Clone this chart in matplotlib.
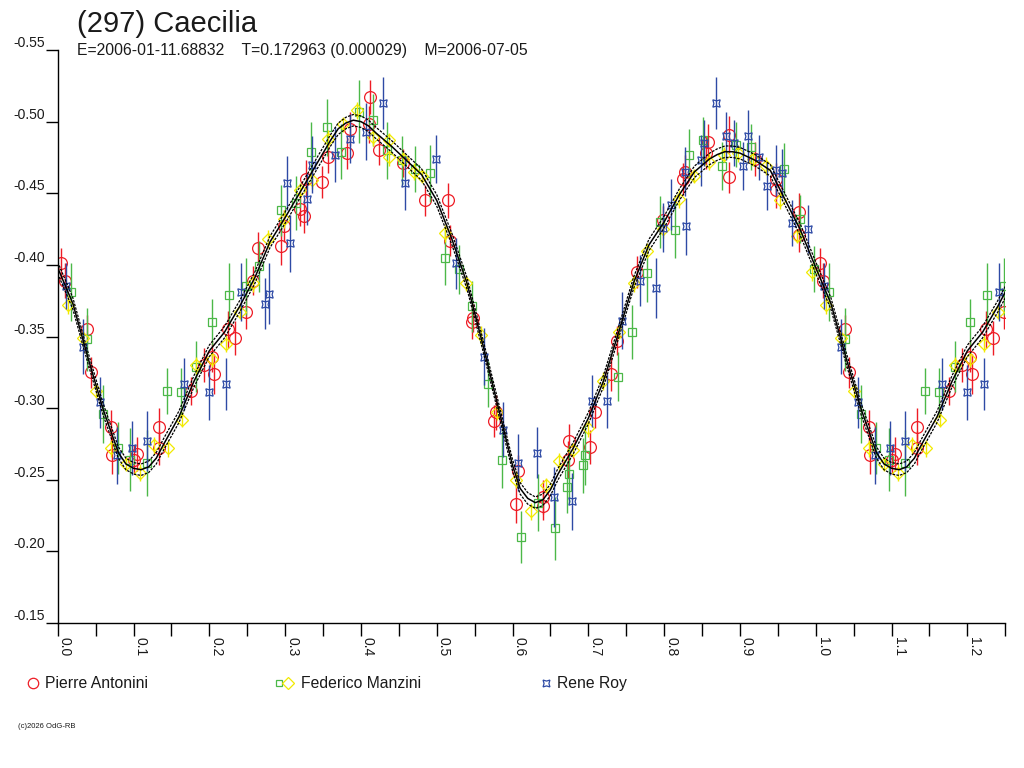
import numpy as np
import matplotlib
matplotlib.use("Agg")
from matplotlib import pyplot as plt

plt.rcParams["font.family"] = ["Liberation Sans", "DejaVu Sans"]

TITLE = "(297) Caecilia"
SUBTITLE = "E=2006-01-11.68832    T=0.172963 (0.000029)    M=2006-07-05"
OBSERVERS = ["Pierre Antonini", "Federico Manzini", "Rene Roy"]

# phase, magnitude, error  (phase 0..1, phases < 0.25 are repeated after 1.0)
red_phase = [0.005, 0.010, 0.038, 0.044, 0.070, 0.071, 0.104, 0.101, 0.134, 0.133,
             0.176, 0.193, 0.206, 0.204, 0.224, 0.234, 0.248, 0.264, 0.294, 0.258,
             0.412, 0.386, 0.382, 0.424, 0.411, 0.356, 0.327, 0.348, 0.320, 0.325,
             0.298, 0.456, 0.485, 0.515, 0.517, 0.548, 0.546, 0.578, 0.575, 0.607,
             0.604, 0.640, 0.640, 0.675, 0.673, 0.702, 0.709, 0.730, 0.738, 0.764,
             0.798, 0.825, 0.828, 0.855, 0.858, 0.886, 0.886, 0.920, 0.948, 0.947,
             0.978, 0.978]
red_mag = [-0.401, -0.389, -0.355, -0.325, -0.287, -0.267, -0.268, -0.264, -0.287, -0.272,
           -0.312, -0.330, -0.324, -0.336, -0.355, -0.349, -0.367, -0.412, -0.413, -0.389,
           -0.517, -0.495, -0.478, -0.480, -0.498, -0.475, -0.460, -0.458, -0.439, -0.434,
           -0.427, -0.471, -0.445, -0.445, -0.417, -0.363, -0.360, -0.297, -0.291, -0.256,
           -0.233, -0.238, -0.232, -0.277, -0.264, -0.273, -0.297, -0.324, -0.347, -0.395,
           -0.431, -0.460, -0.465, -0.478, -0.486, -0.491, -0.461, -0.474, -0.460, -0.452,
           -0.437, -0.421]
red_err = [0.011, 0.012, 0.010, 0.011, 0.012, 0.013, 0.012, 0.010, 0.013, 0.012,
           0.010, 0.012, 0.014, 0.011, 0.013, 0.012, 0.012, 0.011, 0.013, 0.010,
           0.012, 0.012, 0.011, 0.010, 0.013, 0.011, 0.013, 0.011, 0.012, 0.012,
           0.011, 0.010, 0.011, 0.012, 0.011, 0.010, 0.012, 0.012, 0.011, 0.011,
           0.013, 0.012, 0.010, 0.012, 0.013, 0.012, 0.011, 0.012, 0.010, 0.011,
           0.010, 0.011, 0.012, 0.011, 0.012, 0.013, 0.011, 0.012, 0.011, 0.012,
           0.013, 0.012]

green_phase = [0.017, 0.039, 0.060, 0.079, 0.096, 0.118, 0.144, 0.163, 0.183, 0.204,
               0.226, 0.248, 0.266, 0.355, 0.334, 0.374, 0.397, 0.416, 0.435, 0.294,
               0.314, 0.471, 0.491, 0.511, 0.530, 0.547, 0.454, 0.567, 0.586, 0.611,
               0.633, 0.656, 0.672, 0.675, 0.693, 0.696, 0.739, 0.758, 0.777, 0.794,
               0.814, 0.833, 0.851, 0.876, 0.895, 0.914, 0.958, 0.979, 0.997]
green_mag = [-0.381, -0.348, -0.296, -0.272, -0.264, -0.262, -0.312, -0.311, -0.329, -0.360,
             -0.379, -0.385, -0.399, -0.496, -0.479, -0.479, -0.507, -0.501, -0.480, -0.438,
             -0.443, -0.467, -0.464, -0.405, -0.397, -0.371, -0.473, -0.317, -0.264, -0.210,
             -0.234, -0.216, -0.245, -0.254, -0.260, -0.267, -0.322, -0.353, -0.394, -0.430,
             -0.424, -0.477, -0.487, -0.469, -0.484, -0.482, -0.467, -0.432, -0.397]
green_err = [0.020, 0.022, 0.020, 0.018, 0.022, 0.023, 0.016, 0.017, 0.018, 0.016,
             0.022, 0.020, 0.018, 0.020, 0.021, 0.019, 0.022, 0.018, 0.020, 0.018,
             0.019, 0.016, 0.020, 0.019, 0.017, 0.018, 0.017, 0.016, 0.020, 0.018,
             0.020, 0.022, 0.018, 0.020, 0.019, 0.021, 0.017, 0.019, 0.020, 0.018,
             0.019, 0.018, 0.016, 0.017, 0.016, 0.016, 0.018, 0.017, 0.016]

yellow_phase = [0.014, 0.033, 0.051, 0.070, 0.090, 0.109, 0.127, 0.146, 0.164, 0.183,
                0.203, 0.222, 0.240, 0.258, 0.277, 0.395, 0.376, 0.357, 0.336, 0.320,
                0.298, 0.416, 0.437, 0.437, 0.456, 0.470, 0.480, 0.511, 0.539, 0.558,
                0.580, 0.604, 0.624, 0.644, 0.661, 0.680, 0.699, 0.719, 0.740, 0.760,
                0.778, 0.798, 0.820, 0.840, 0.859, 0.879, 0.898, 0.917, 0.934, 0.953,
                0.975, 0.995]
yellow_mag = [-0.372, -0.349, -0.312, -0.272, -0.261, -0.255, -0.274, -0.272, -0.292, -0.330,
              -0.334, -0.345, -0.367, -0.387, -0.418, -0.508, -0.498, -0.488, -0.459, -0.452,
              -0.432, -0.489, -0.487, -0.475, -0.474, -0.465, -0.462, -0.422, -0.387, -0.351,
              -0.297, -0.250, -0.228, -0.246, -0.263, -0.271, -0.286, -0.319, -0.353, -0.387,
              -0.410, -0.425, -0.446, -0.462, -0.472, -0.477, -0.478, -0.474, -0.469, -0.445,
              -0.420, -0.395]
yellow_err = [0.006, 0.006, 0.005, 0.006, 0.005, 0.006, 0.006, 0.006, 0.005, 0.006,
              0.005, 0.006, 0.005, 0.006, 0.006, 0.006, 0.005, 0.006, 0.006, 0.005,
              0.006, 0.006, 0.005, 0.006, 0.005, 0.006, 0.005, 0.006, 0.005, 0.006,
              0.005, 0.006, 0.006, 0.005, 0.006, 0.005, 0.006, 0.006, 0.005, 0.006,
              0.005, 0.006, 0.006, 0.005, 0.006, 0.005, 0.006, 0.005, 0.006, 0.006,
              0.005, 0.006]

blue_phase = [0.011, 0.033, 0.056, 0.078, 0.098, 0.118, 0.167, 0.200, 0.222, 0.242,
              0.279, 0.274, 0.306, 0.429, 0.407, 0.386, 0.366, 0.336, 0.329, 0.302,
              0.499, 0.458, 0.525, 0.563, 0.587, 0.607, 0.632, 0.655, 0.678, 0.705,
              0.725, 0.745, 0.768, 0.789, 0.798, 0.809, 0.829, 0.828, 0.848, 0.853,
              0.869, 0.881, 0.892, 0.904, 0.911, 0.925, 0.935, 0.948, 0.955, 0.969,
              0.990]
blue_mag = [-0.385, -0.343, -0.304, -0.267, -0.272, -0.277, -0.317, -0.311, -0.317, -0.381,
            -0.380, -0.373, -0.415, -0.513, -0.493, -0.488, -0.477, -0.470, -0.446, -0.457,
            -0.474, -0.457, -0.401, -0.336, -0.285, -0.262, -0.269, -0.238, -0.235, -0.305,
            -0.305, -0.361, -0.389, -0.384, -0.426, -0.442, -0.427, -0.465, -0.473, -0.485,
            -0.513, -0.490, -0.485, -0.469, -0.490, -0.475, -0.455, -0.466, -0.464, -0.429,
            -0.425]
blue_err = [0.016, 0.019, 0.018, 0.020, 0.019, 0.021, 0.018, 0.019, 0.018, 0.020,
            0.021, 0.018, 0.020, 0.018, 0.020, 0.017, 0.019, 0.020, 0.018, 0.019,
            0.017, 0.019, 0.018, 0.020, 0.019, 0.020, 0.018, 0.021, 0.020, 0.018,
            0.019, 0.020, 0.018, 0.021, 0.017, 0.018, 0.020, 0.017, 0.018, 0.016,
            0.018, 0.017, 0.016, 0.017, 0.018, 0.016, 0.017, 0.018, 0.017, 0.016,
            0.017]

# fitted light curve (denser near the extremes)
curve_phase = [0.00, 0.02, 0.04, 0.06, 0.08, 0.09, 0.10, 0.11, 0.12, 0.13, 0.14, 0.16, 0.18,
               0.20, 0.22, 0.24, 0.26, 0.28, 0.30, 0.32, 0.34, 0.36, 0.37, 0.38, 0.39,
               0.40, 0.41, 0.42, 0.44, 0.46, 0.48, 0.50, 0.52, 0.54, 0.56, 0.58,
               0.60, 0.61, 0.62, 0.63, 0.64, 0.65, 0.66, 0.68, 0.70, 0.72, 0.74, 0.76, 0.78,
               0.80, 0.82, 0.84, 0.86, 0.87, 0.88, 0.89, 0.90, 0.92, 0.94, 0.96, 0.98, 1.00]
curve_mag = [-0.398, -0.373, -0.335, -0.299, -0.269, -0.261, -0.258, -0.257, -0.259, -0.265,
             -0.275, -0.294, -0.319,
             -0.340, -0.353, -0.371, -0.391, -0.416, -0.433, -0.451, -0.469, -0.487, -0.495,
             -0.499, -0.501,
             -0.500, -0.497, -0.492, -0.483, -0.473, -0.463, -0.445, -0.418, -0.387, -0.346, -0.303,
             -0.260, -0.244, -0.237, -0.234, -0.236, -0.243, -0.254, -0.272, -0.293, -0.319,
             -0.353, -0.388, -0.414,
             -0.430, -0.449, -0.465, -0.474, -0.477, -0.479, -0.479, -0.478, -0.473, -0.466,
             -0.445, -0.424, -0.398]
BAND = 0.004

RED = "#ee1c25"
GREEN = "#4cb848"
YELLOW = "#f2ea00"
BLUE = "#2e4aa5"
BLUE_MARKER = (4, 1, 45)
TXT = "#1a1a1a"


def wrap(phase, *cols, limit=0.25):
    """repeat the points with phase < limit one cycle later"""
    phase = np.asarray(phase)
    sel = phase < limit
    out = [np.concatenate([phase, phase[sel] + 1.0])]
    for c in cols:
        c = np.asarray(c)
        out.append(np.concatenate([c, c[sel]]))
    return out


fig = plt.figure(figsize=(10.24, 7.68), dpi=100)
ax = fig.add_axes([57.7 / 1024, 1 - 623 / 768, (1005.3 - 57.7) / 1024, (623 - 50) / 768])

series = [
    (red_phase, red_mag, red_err, RED, "o", 8.5),
    (green_phase, green_mag, green_err, GREEN, "s", 6.3),
    (yellow_phase, yellow_mag, yellow_err, YELLOW, "D", 6.0),
    (blue_phase, blue_mag, blue_err, BLUE, BLUE_MARKER, 7.5),
]
for ph, mg, er, col, mk, ms in series:
    x, y, e = wrap(ph, mg, er)
    ax.errorbar(x, y, yerr=e, fmt="none", ecolor=col, elinewidth=1.0, capsize=0)
    ax.plot(x, y, linestyle="none", marker=mk, markersize=ms, markerfacecolor="none",
            markeredgecolor=col, markeredgewidth=0.9)

cx, cy = wrap(curve_phase, curve_mag, limit=0.27)
ax.plot(cx, cy, color="black", lw=1.1)
ax.plot(cx, cy - BAND, color="black", lw=0.9, ls=(0, (2, 1)))
ax.plot(cx, cy + BAND, color="black", lw=0.9, ls=(0, (2, 1)))

ax.set_xlim(0, 1.25)
ax.set_ylim(-0.15, -0.55)
for s in ["top", "right"]:
    ax.spines[s].set_visible(False)
ax.spines["left"].set_linewidth(1.0)
ax.spines["bottom"].set_linewidth(1.0)

yt = np.arange(-0.55, -0.149, 0.05)
ax.set_yticks(yt)
ax.set_yticklabels(["%.2f" % v for v in yt], va="bottom", fontsize=10, color=TXT)
ax.tick_params(axis="y", length=9, width=1, pad=0, direction="out")

xt = np.arange(0, 1.25, 0.1)
ax.set_xticks(xt)
ax.set_xticks(np.arange(0.05, 1.26, 0.1), minor=True)
ax.set_xticklabels(["%.1f" % v for v in xt], rotation=270, ha="left", va="top",
                   fontsize=10, color=TXT)
ax.tick_params(axis="x", which="both", length=9, width=1, pad=1, direction="out")

# titles
fig.text(77 / 1024, 1 - 32 / 768, TITLE, fontsize=21, va="baseline", color=TXT)
fig.text(77 / 1024, 1 - 55 / 768, SUBTITLE, fontsize=11.3, va="baseline", color=TXT)

# legend row
lax = fig.add_axes([0, 0, 1, 1])
lax.set_xlim(0, 1024)
lax.set_ylim(768, 0)
lax.axis("off")
lax.plot([33], [683], marker="o", ms=7.5, mfc="none", mec=RED, mew=0.9)
lax.plot([279], [683], marker="s", ms=5, mfc="none", mec=GREEN, mew=0.9)
lax.plot([288], [683], marker="D", ms=6, mfc="none", mec=YELLOW, mew=0.9)
lax.plot([546], [683], marker=BLUE_MARKER, ms=7, mfc="none", mec=BLUE, mew=0.9)
for xpos, name in zip([45, 301, 557], OBSERVERS):
    lax.text(xpos, 688, name, fontsize=11.3, va="baseline", ha="left", color=TXT)
lax.text(18, 726, "(c)2026 OdG-RB", fontsize=5.5, va="center", ha="left", color=TXT)

fig.savefig("out.png", dpi=100)
